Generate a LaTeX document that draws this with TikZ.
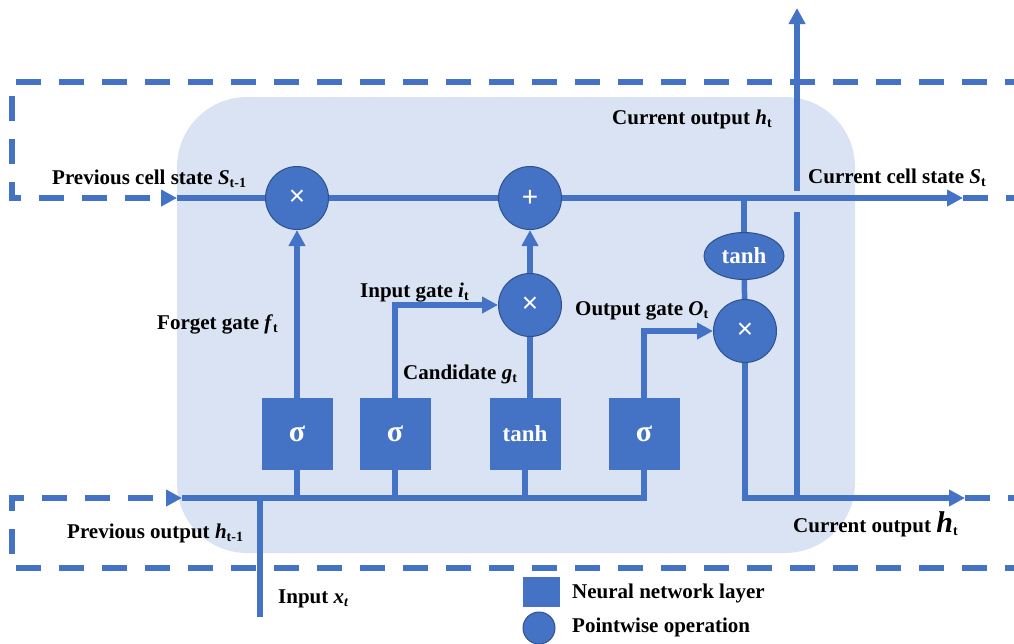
\documentclass[tikz,border=0pt]{standalone}
\usepackage{fontspec}
\setmainfont{Liberation Serif}
\newfontfamily\symfont{Liberation Sans}
\usetikzlibrary{shapes.geometric,arrows.meta}
\definecolor{mblue}{HTML}{4472C4}
\definecolor{dblue}{HTML}{2F528F}
\definecolor{lblue}{HTML}{DAE3F3}
\newcommand{\sbs}[1]{\raisebox{-0.35ex}{\fontsize{14}{14}\selectfont #1}}
\newcommand{\vb}[1]{\textbf{\textit{#1}}}
\newcommand{\sig}{{\fontsize{30}{30}\selectfont σ}}
\tikzset{
  wire/.style={mblue,line width=5.5pt},
  arr/.style={-{Triangle[length=16pt,width=16pt]}},
  dsh/.style={mblue,line width=5.5pt,dash pattern=on 25pt off 18pt},
  layer/.style={rectangle,fill=mblue,minimum width=71pt,minimum height=72pt,text=white,inner sep=0pt,font=\bfseries\fontsize{23}{26}\selectfont},
  op/.style={circle,fill=mblue,draw=dblue,line width=1pt,minimum size=63pt,inner sep=0pt,text=white,font=\symfont\fontsize{28}{30}\selectfont},
  ell/.style={ellipse,fill=mblue,draw=dblue,line width=1pt,minimum width=80pt,minimum height=47pt,inner sep=0pt,text=white,font=\bfseries\fontsize{23}{26}\selectfont},
  lab/.style={anchor=base west,inner sep=0pt,font=\bfseries\fontsize{21}{24}\selectfont},
}
\begin{document}
\begin{tikzpicture}[x=1pt,y=-1pt]
\useasboundingbox (0,0) rectangle (1014,643);
\clip (0,0) rectangle (1014,643);
% cell background
\fill[lblue,rounded corners=70pt] (177,97) rectangle (855,553);
% nodes
\node[op] (c1) at (297,198) {×};
\node[op] (c2) at (530,198) {+};
\node[op] (c3) at (530,305) {×};
\node[op] (c4) at (745,331) {×};
\node[ell] (th) at (744,256) {tanh};
\node[layer] (b1) at (297,434) {\sig};
\node[layer] (b2) at (395,434) {\sig};
\node[layer] (b3) at (525,434) {tanh};
\node[layer] (b4) at (644,434) {\sig};
% coordinates
\coordinate (cin) at (177,198);
\coordinate (cout) at (963,198);
\coordinate (cfar) at (1030,198);
\coordinate (hin) at (182,498);
\coordinate (hout) at (965,498);
\coordinate (hfar) at (1030,498);
\coordinate (xin) at (260,617);
\coordinate (hj) at (797,498);
\coordinate (hb) at (797,212);
\coordinate (ha) at (797,191);
\coordinate (hup) at (797,8);
\coordinate (tl) at (12,82);
\coordinate (tr) at (1030,82);
\coordinate (tlb) at (12,198);
\coordinate (bl) at (12,568);
\coordinate (br) at (1030,568);
\coordinate (blt) at (12,498);
% dashed loops
\draw[dsh,arr] (tr) -- (tl) -- (tlb) -- (cin);
\draw[dsh] (cout) -- (cfar);
\draw[dsh,arr] (br) -- (bl) -- (blt) -- (hin);
\draw[dsh] (hout) -- (hfar);
% cell state
\draw[wire] (cin) -- (c1);
\draw[wire] (c1) -- (c2);
\draw[wire,arr] (c2) -- (cout);
% bus
\draw[wire] (hin) -| (b4);
\draw[wire] (b1) -- (b1 |- hin);
\draw[wire] (b2) -- (b2 |- hin);
\draw[wire] (b3) -- (b3 |- hin);
\draw[wire] (xin) -- (xin |- hin);
% gates
\draw[wire,arr] (b1) -- (c1);
\draw[wire,arr] (b2) |- (c3);
\draw[wire] (c3 |- b3.north) -- (c3);
\draw[wire,arr] (c3) -- (c2);
\draw[wire,arr] (b4) |- (c4);
\draw[wire] (th |- cin) -- (th);
\draw[wire] (th) -- (c4);
\draw[wire,arr] (c4) |- (hout);
\draw[wire] (hj) -- (hb);
\draw[wire,arr] (ha) -- (hup);
% labels
\node[lab] (l1) at (52,184) {Previous cell state \vb{S}\sbs{t-1}};
\node[lab] (l2) at (612,124) {Current output \vb{h}\sbs{t}};
\node[lab] (l3) at (808,183) {Current cell state \vb{S}\sbs{t}};
\node[lab] (l4) at (157,329) {Forget gate \vb{f}\sbs{t}};
\node[lab] (l5) at (360,297) {Input gate \vb{i}\sbs{t}};
\node[lab] (l6) at (403,379) {Candidate \vb{g}\sbs{t}};
\node[lab] (l7) at (575,315) {Output gate \vb{O}\sbs{t}};
\node[lab] (l8) at (67,538) {Previous output \vb{h}\sbs{t-1}};
\node[lab] (l9) at (278,603) {Input \vb{x}\raisebox{-0.35ex}{\fontsize{14}{14}\selectfont\textit{t}}};
\node[lab] (l10) at (793,532) {Current output {\fontsize{30}{30}\selectfont\textit{h}}\sbs{t}};
% legend
\node[rectangle,fill=mblue,minimum width=37pt,minimum height=30pt,inner sep=0pt] (lg1) at (541,592) {};
\node[circle,fill=mblue,draw=dblue,line width=1pt,minimum size=32pt,inner sep=0pt] (lg2) at (539,628) {};
\node[lab] (lt1) at (572,598) {Neural network layer};
\node[lab] (lt2) at (572,632) {Pointwise operation};
\end{tikzpicture}
\end{document}
